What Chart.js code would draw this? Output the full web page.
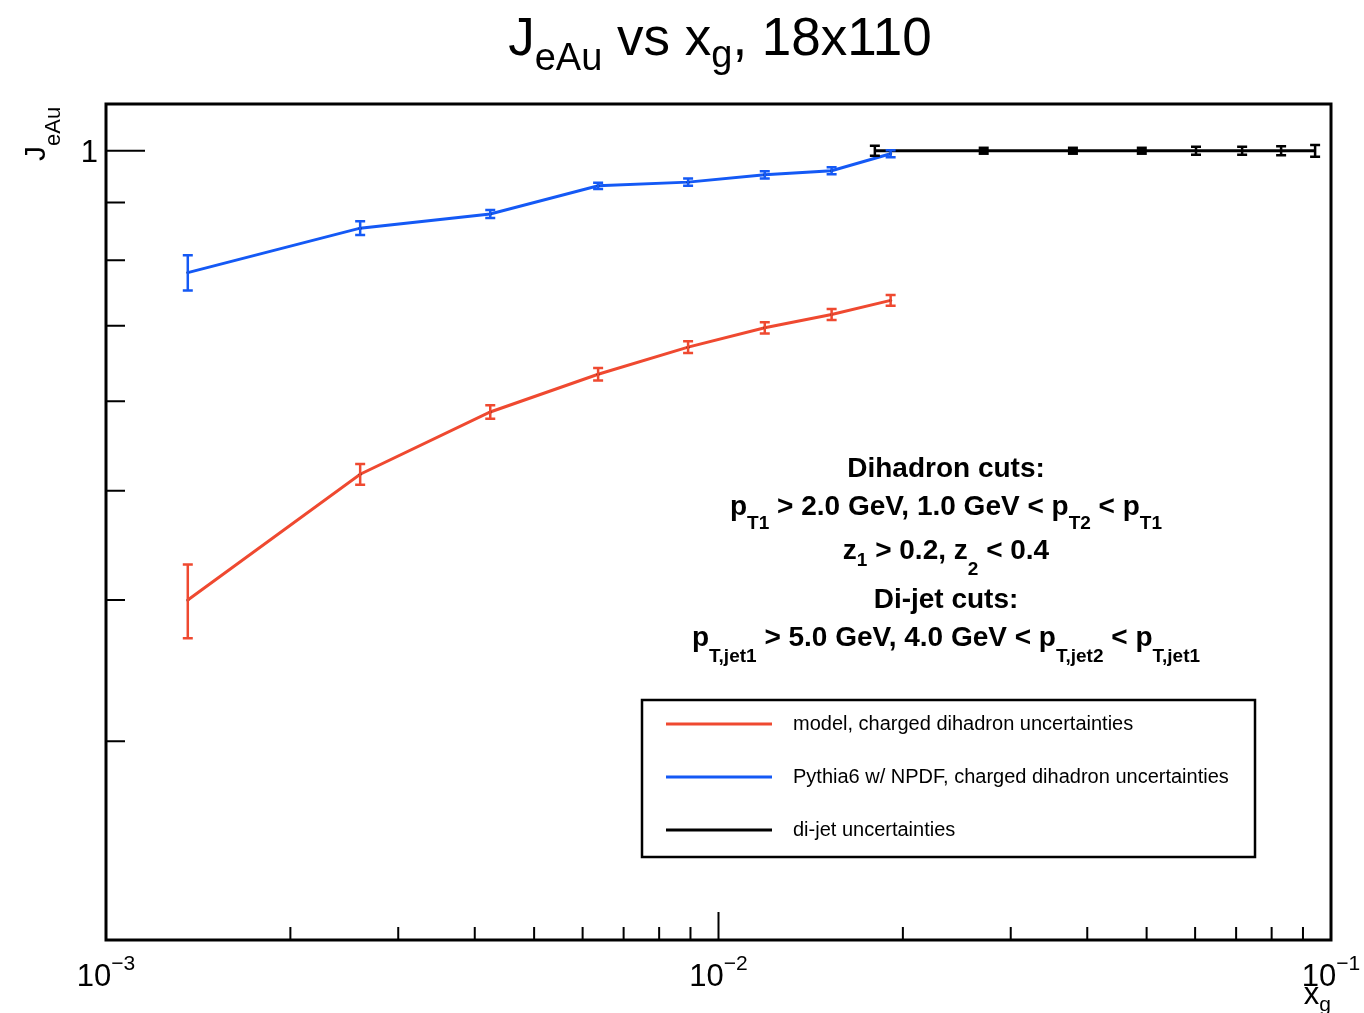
<!DOCTYPE html>
<html>
<head>
<meta charset="utf-8">
<script src="https://cdn.jsdelivr.net/npm/chart.js@4"></script>
<style>
  html, body { margin: 0; padding: 0; background: #fff; }
  #wrap { width: 1364px; height: 1013px; position: relative; }
</style>
</head>
<body>
<div id="wrap"><canvas id="chart"></canvas></div>
<script>
const FONT = '"Liberation Sans", Arial, Helvetica, sans-serif';

// x_g bins shared by both dihadron curves
const xgDihadron = [0.00136, 0.00260, 0.00424, 0.00636, 0.00892, 0.0119, 0.0153, 0.0191];
const jModel = [0.400, 0.517, 0.587, 0.634, 0.670, 0.697, 0.716, 0.737];
const errModel = [0.030, 0.011, 0.008, 0.008, 0.008, 0.008, 0.008, 0.008];
const jPythia = [0.780, 0.854, 0.879, 0.931, 0.938, 0.952, 0.960, 0.994];
const errPythia = [0.028, 0.012, 0.007, 0.006, 0.007, 0.007, 0.007, 0.007];

const xgDijet = [0.0180, 0.0271, 0.0379, 0.0491, 0.0602, 0.0716, 0.0829, 0.0942];
const jDijet = [1, 1, 1, 1, 1, 1, 1, 1];
const errDijet = [0.010, 0.006, 0.006, 0.006, 0.008, 0.008, 0.009, 0.012];

const seriesLabels = [
  'model, charged dihadron uncertainties',
  'Pythia6 w/ NPDF, charged dihadron uncertainties',
  'di-jet uncertainties'
];
const seriesColors = ['#ef4930', '#1459f5', '#000000'];

const xMajor = [0.001, 0.01, 0.1];
const xMinor = [0.002, 0.003, 0.004, 0.005, 0.006, 0.007, 0.008, 0.009,
                0.02, 0.03, 0.04, 0.05, 0.06, 0.07, 0.08, 0.09];
const yMajor = [1];
const yMinor = [0.3, 0.4, 0.5, 0.6, 0.7, 0.8, 0.9];

const errors = [errModel, errPythia, errDijet];

// draw a run of text pieces: [text, size, dy]
function drawRich(ctx, parts, x, y, weight, align) {
  const widths = parts.map(([t, s]) => {
    ctx.font = weight + ' ' + s + 'px ' + FONT;
    return ctx.measureText(t).width;
  });
  const total = widths.reduce((a, b) => a + b, 0);
  let cx = align === 'center' ? x - total / 2 : align === 'right' ? x - total : x;
  parts.forEach(([t, s, dy], i) => {
    ctx.font = weight + ' ' + s + 'px ' + FONT;
    ctx.fillText(t, cx, y + (dy || 0));
    cx += widths[i];
  });
}

const toPts = (xs, ys) => xs.map((x, i) => ({ x, y: ys[i] }));

const errorBars = {
  id: 'errorBars',
  afterDatasetsDraw(chart) {
    const { ctx } = chart;
    const ys = chart.scales.y;
    chart.data.datasets.forEach((ds, di) => {
      const meta = chart.getDatasetMeta(di);
      ctx.save();
      ctx.strokeStyle = ds.borderColor;
      ctx.fillStyle = ds.borderColor;
      ctx.lineWidth = 2.5;
      meta.data.forEach((pt, i) => {
        const v = ds.data[i].y;
        const e = errors[di][i];
        const top = ys.getPixelForValue(v + e);
        const bot = ys.getPixelForValue(v - e);
        if (bot - top < 6) {
          // tiny error: caps merge into a solid block
          ctx.fillRect(pt.x - 5, top - 1.25, 10, bot - top + 2.5);
          return;
        }
        ctx.beginPath();
        ctx.moveTo(pt.x, top); ctx.lineTo(pt.x, bot);
        ctx.moveTo(pt.x - 5, top); ctx.lineTo(pt.x + 5, top);
        ctx.moveTo(pt.x - 5, bot); ctx.lineTo(pt.x + 5, bot);
        ctx.stroke();
      });
      ctx.restore();
    });
  }
};

const frame = {
  id: 'frame',
  afterDraw(chart) {
    const { ctx, chartArea: a } = chart;
    const xs = chart.scales.x, ys = chart.scales.y;
    ctx.save();
    ctx.strokeStyle = '#000';
    ctx.fillStyle = '#000';
    ctx.lineWidth = 3;
    ctx.strokeRect(a.left, a.top, a.right - a.left, a.bottom - a.top);

    // ticks pointing inward
    ctx.lineWidth = 2;
    ctx.beginPath();
    xMajor.forEach(v => { const p = xs.getPixelForValue(v); ctx.moveTo(p, a.bottom); ctx.lineTo(p, a.bottom - 28); });
    xMinor.forEach(v => { const p = xs.getPixelForValue(v); ctx.moveTo(p, a.bottom); ctx.lineTo(p, a.bottom - 13); });
    yMajor.forEach(v => { const p = ys.getPixelForValue(v); ctx.moveTo(a.left, p); ctx.lineTo(a.left + 39, p); });
    yMinor.forEach(v => { const p = ys.getPixelForValue(v); ctx.moveTo(a.left, p); ctx.lineTo(a.left + 19, p); });
    ctx.stroke();

    // tick labels
    ctx.textBaseline = 'alphabetic';
    xMajor.forEach(v => {
      const p = xs.getPixelForValue(v);
      const ex = Math.round(Math.log10(v));
      drawRich(ctx, [['10', 31, 0], ['\u2212' + Math.abs(ex), 21, -16]], p, 986, 'normal', 'center');
    });
    yMajor.forEach(v => {
      const p = ys.getPixelForValue(v);
      ctx.font = '31px ' + FONT;
      ctx.textAlign = 'right';
      ctx.fillText(String(v), 98, p + 11);
      ctx.textAlign = 'left';
    });

    // axis titles
    drawRich(ctx, [['x', 31, 0], ['g', 21, 7]], a.right, 1004, 'normal', 'right');
    ctx.save();
    ctx.translate(45, 161);
    ctx.rotate(-Math.PI / 2);
    drawRich(ctx, [['J', 30, 0], ['eAu', 22, 15]], 0, 0, 'normal', 'left');
    ctx.restore();

    // title
    drawRich(ctx, [['J', 53, 0], ['eAu', 38, 15], [' vs x', 53, 0], ['g', 38, 12], [', 18x110', 53, 0]],
      720, 55, 'normal', 'center');

    // cuts text
    const cx = 946, b = 'bold', s = 28, ss = 19;
    drawRich(ctx, [['Dihadron cuts:', s, 0]], cx, 477, b, 'center');
    drawRich(ctx, [['p', s, 0], ['T1', ss, 14], [' > 2.0 GeV, 1.0 GeV < p', s, 0], ['T2', ss, 14], [' < p', s, 0], ['T1', ss, 14]],
      cx, 515, b, 'center');
    drawRich(ctx, [['z', s, 0], ['1', ss, 7], [' > 0.2, z', s, 0], ['2', ss, 16], [' < 0.4', s, 0]], cx, 559, b, 'center');
    drawRich(ctx, [['Di-jet cuts:', s, 0]], cx, 608, b, 'center');
    drawRich(ctx, [['p', s, 0], ['T,jet1', ss, 16], [' > 5.0 GeV, 4.0 GeV < p', s, 0], ['T,jet2', ss, 16], [' < p', s, 0], ['T,jet1', ss, 16]],
      cx, 646, b, 'center');

    // legend box
    ctx.lineWidth = 2.5;
    ctx.strokeRect(642, 700, 613, 157);
    ctx.textBaseline = 'middle';
    ctx.font = '20px ' + FONT;
    const rows = [724, 777, 830];
    seriesLabels.forEach((lab, i) => {
      ctx.strokeStyle = seriesColors[i];
      ctx.lineWidth = 3;
      ctx.beginPath();
      ctx.moveTo(666, rows[i]); ctx.lineTo(772, rows[i]);
      ctx.stroke();
      ctx.fillStyle = '#000';
      ctx.fillText(lab, 793, rows[i]);
    });
    ctx.restore();
  }
};

new Chart(document.getElementById('chart'), {
  type: 'line',
  data: {
    datasets: [
      { label: seriesLabels[0], data: toPts(xgDihadron, jModel), borderColor: seriesColors[0], borderWidth: 3,
        pointRadius: 1.5, pointBackgroundColor: '#222', pointBorderWidth: 0, tension: 0 },
      { label: seriesLabels[1], data: toPts(xgDihadron, jPythia), borderColor: seriesColors[1], borderWidth: 3,
        pointRadius: 1.5, pointBackgroundColor: '#222', pointBorderWidth: 0, tension: 0 },
      { label: seriesLabels[2], data: toPts(xgDijet, jDijet), borderColor: seriesColors[2], borderWidth: 3,
        pointRadius: 0, tension: 0 }
    ]
  },
  options: {
    responsive: true,
    maintainAspectRatio: false,
    animation: false,
    layout: { padding: { left: 106, right: 33, top: 104, bottom: 73 } },
    plugins: { legend: { display: false }, title: { display: false }, tooltip: { enabled: false } },
    scales: {
      x: { type: 'logarithmic', min: 0.001, max: 0.1, display: false },
      y: { type: 'logarithmic', min: 0.2, max: 1.1, display: false }
    }
  },
  plugins: [errorBars, frame]
});
</script>
</body>
</html>
